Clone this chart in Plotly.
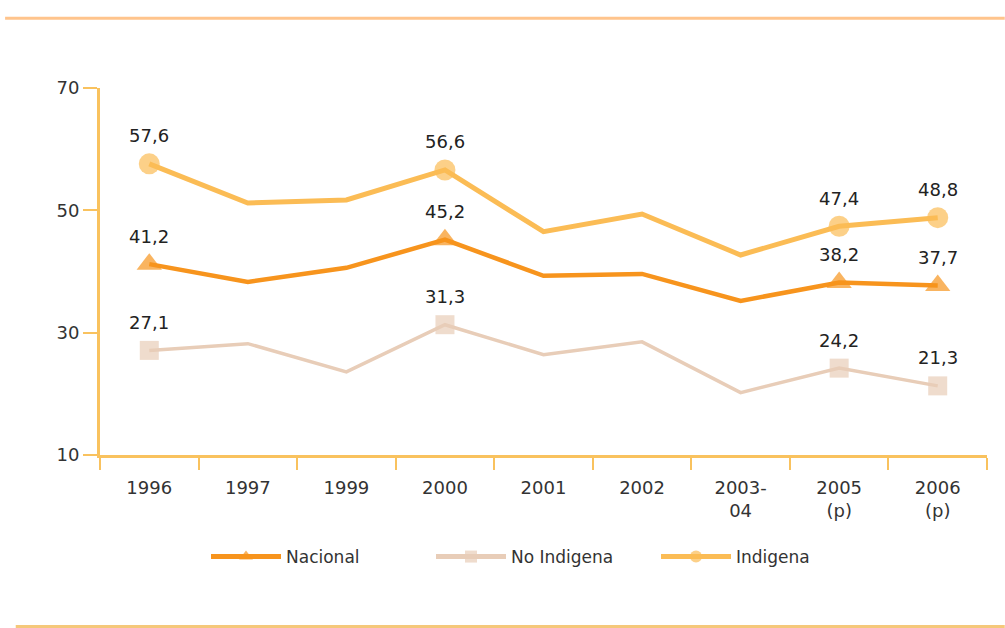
import plotly.graph_objects as go

categories = ["1996", "1997", "1999", "2000", "2001", "2002", "2003-<br>04", "2005<br>(p)", "2006<br>(p)"]
nacional = [41.2, 38.3, 40.6, 45.2, 39.3, 39.6, 35.2, 38.2, 37.7]
no_indigena = [27.1, 28.2, 23.6, 31.3, 26.4, 28.5, 20.2, 24.2, 21.3]
indigena = [57.6, 51.2, 51.7, 56.6, 46.5, 49.4, 42.7, 47.4, 48.8]
labeled_idx = [0, 3, 7, 8]
y_ticks = [10, 30, 50, 70]

FONT = "DejaVu Sans"
AXIS_COLOR = "#F9C25E"

series = [
    ("Nacional", nacional, "#F7941D", 4.5, "triangle-up", 22),
    ("No Indigena", no_indigena, "#E8CDB8", 3.5, "square", 19),
    ("Indigena", indigena, "#FBBC55", 5, "circle", 21),
]

fig = go.Figure()
annotations = []
for name, vals, color, lw, sym, ms in series:
    sizes = [ms if i in labeled_idx else 0 for i in range(len(vals))]
    fig.add_trace(go.Scatter(
        x=list(range(len(categories))), y=vals, name=name, mode="lines+markers",
        line=dict(color=color, width=lw),
        marker=dict(symbol=sym, size=sizes, color=color, line=dict(width=0)),
    ))
    for i in labeled_idx:
        annotations.append(dict(
            x=i, y=vals[i], xref="x", yref="y",
            text=f"{vals[i]:.1f}".replace(".", ","), showarrow=False,
            yshift=28, font=dict(family=FONT, size=18, color="#222"),
        ))

fig.update_layout(
    width=1005, height=628,
    margin=dict(l=100, r=18, t=88, b=173),
    paper_bgcolor="white", plot_bgcolor="white",
    font=dict(family=FONT, size=18, color="#333"),
    annotations=annotations,
    showlegend=True,
    legend=dict(orientation="h", x=0.5, xanchor="center", y=-0.278, yanchor="middle",
                font=dict(family=FONT, size=17, color="#333"), itemsizing="constant",
                itemwidth=70, entrywidth=140, traceorder="normal"),
    shapes=[
        dict(type="line", xref="paper", yref="paper", x0=-0.107, x1=1.02, y0=1.19, y1=1.19,
             line=dict(color="#FFC48C", width=3)),
        dict(type="line", xref="paper", yref="paper", x0=-0.095, x1=1.02, y0=-0.467, y1=-0.467,
             line=dict(color="#F5C87A", width=3)),
    ],
)
fig.update_xaxes(
    tickmode="array", tickvals=list(range(len(categories))), ticktext=categories,
    ticks="", showline=True, linecolor=AXIS_COLOR, linewidth=3,
    showgrid=False, zeroline=False, tickfont=dict(family=FONT, size=18, color="#333"),
    range=[-0.5, 8.5], ticklabelstandoff=14,
    minor=dict(tickvals=[i - 0.5 for i in range(len(categories) + 1)], ticks="outside",
               ticklen=12, tickwidth=2, tickcolor=AXIS_COLOR, showgrid=False),
)
fig.update_yaxes(
    range=[10, 70], tickvals=y_ticks, ticks="outside", ticklen=14, tickwidth=2,
    tickcolor=AXIS_COLOR, showline=True, linecolor=AXIS_COLOR, linewidth=3,
    showgrid=False, zeroline=False, tickfont=dict(family=FONT, size=18, color="#333"),
)

fig.write_html("out.html", config={"displayModeBar": False},
               post_script="document.body.style.margin='0';")
